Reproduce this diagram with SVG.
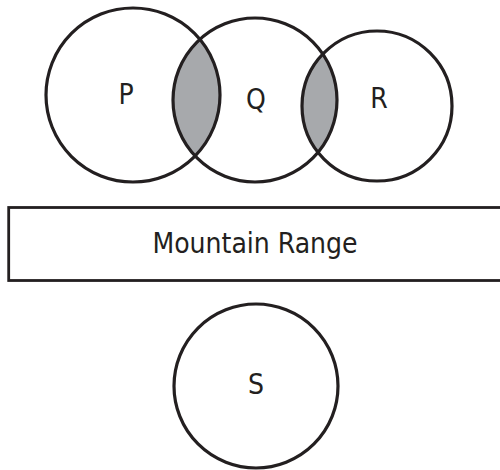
<svg xmlns="http://www.w3.org/2000/svg" width="500" height="470" viewBox="0 0 500 470">
<style>
.c{fill:none;stroke:#231f20;stroke-width:3.2}
.lens{fill:#a7a9ac;stroke:none}
.box{fill:#ffffff;stroke:#231f20;stroke-width:2.8}
.t{font-family:"DejaVu Sans Condensed","DejaVu Sans",sans-serif;font-stretch:condensed;font-size:28px;fill:#231f20;text-anchor:middle;dominant-baseline:central}
</style>
<rect width="500" height="470" fill="#ffffff"/>
<g id="overlaps">
<path class="lens" d="M199.85 39.32 A87 87 0 0 1 195.07 155.96 A82 82 0 0 1 199.85 39.32 Z"/>
<path class="lens" d="M322.91 54.04 A82 82 0 0 1 318.07 152.40 A75 75 0 0 1 322.91 54.04 Z"/>
</g>
<g id="P">
<circle class="c" cx="133" cy="95" r="87"/>
<text class="t" x="126" y="94">P</text>
</g>
<g id="Q">
<circle class="c" cx="255" cy="100" r="82"/>
<text class="t" x="256" y="99">Q</text>
</g>
<g id="R">
<circle class="c" cx="377" cy="106" r="75"/>
<text class="t" x="379" y="98">R</text>
</g>
<g id="mountain-range">
<rect class="box" x="8.7" y="207.5" width="500" height="73"/>
<text class="t" x="255" y="243">Mountain Range</text>
</g>
<g id="S">
<circle class="c" cx="256" cy="386" r="82"/>
<text class="t" x="256" y="384">S</text>
</g>
</svg>
